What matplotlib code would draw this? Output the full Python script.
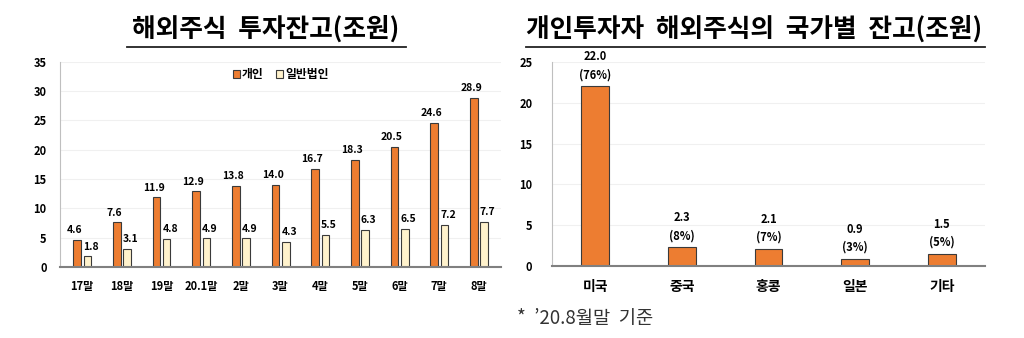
import matplotlib.pyplot as plt
import numpy as np
from matplotlib.lines import Line2D

plt.rcParams['font.family'] = ['Noto Sans CJK KR', 'DejaVu Sans']

# 해외주식 투자잔고 (조원)
periods = ['17말', '18말', '19말', '20.1말', '2말', '3말', '4말', '5말', '6말', '7말', '8말']
individual = [4.6, 7.6, 11.9, 12.9, 13.8, 14.0, 16.7, 18.3, 20.5, 24.6, 28.9]
corporate = [1.8, 3.1, 4.8, 4.9, 4.9, 4.3, 5.5, 6.3, 6.5, 7.2, 7.7]

# 개인투자자 국가별 잔고 (조원)
countries = ['미국', '중국', '홍콩', '일본', '기타']
country_vals = [22.0, 2.3, 2.1, 0.9, 1.5]
country_pct = ['76%', '8%', '7%', '3%', '5%']

orange = '#ED7D31'
cream = '#FFF2CC'
edge = '#3a3a3a'

fig = plt.figure(figsize=(10.24, 3.38), dpi=100)

def style_axes(ax, ymax, step):
    ax.set_ylim(0, ymax)
    ax.set_yticks(np.arange(0, ymax + 0.1, step))
    for s in ['top', 'right']:
        ax.spines[s].set_visible(False)
    ax.spines['left'].set_color('#bfbfbf')
    ax.spines['bottom'].set_color('#808080')
    ax.spines['bottom'].set_linewidth(1.5)
    ax.grid(axis='y', color='#f0f0f0', linewidth=0.8)
    ax.set_axisbelow(True)
    ax.tick_params(length=0, labelsize=8)
    for lbl in ax.get_yticklabels() + ax.get_xticklabels():
        lbl.set_fontweight('bold')

# 왼쪽 차트
ax1 = fig.add_axes([0.059, 0.21, 0.43, 0.607])
x = np.arange(len(periods))
w = 0.19
ax1.bar(x - 0.13, individual, w, color=orange, edgecolor=edge, linewidth=0.8, label='개인')
ax1.bar(x + 0.13, corporate, w, color=cream, edgecolor=edge, linewidth=0.8, label='일반법인')
ax1.set_xticks(x)
ax1.set_xticklabels(periods)
ax1.set_xlim(-0.55, len(periods) - 0.45)
style_axes(ax1, 35, 5)
ax1.tick_params(axis='x', pad=9)
ax1.tick_params(axis='y', pad=10)
for xi, v in zip(x, individual):
    ax1.text(xi - 0.2, v + 0.8, f'{v:.1f}', ha='center', va='bottom', fontsize=7.5, fontweight='bold')
for xi, v in zip(x, corporate):
    ax1.text(xi + 0.22, v + 0.8, f'{v:.1f}', ha='center', va='bottom', fontsize=7.5, fontweight='bold')
leg = ax1.legend(loc='upper center', ncol=2, frameon=False, fontsize=8.5,
                 handlelength=0.6, handleheight=0.6, handletextpad=0.2, columnspacing=1.0,
                 bbox_to_anchor=(0.5, 1.02))
for t in leg.get_texts():
    t.set_fontweight('bold')

# 오른쪽 차트
ax2 = fig.add_axes([0.539, 0.213, 0.423, 0.604])
xc = np.arange(len(countries))
ax2.bar(xc, country_vals, 0.32, color=orange, edgecolor=edge, linewidth=0.8)
ax2.set_xticks(xc)
ax2.set_xticklabels(countries)
ax2.set_xlim(-0.5, len(countries) - 0.5)
style_axes(ax2, 25, 5)
ax2.tick_params(axis='x', pad=10, labelsize=10)
ax2.tick_params(axis='y', pad=14)
for xi, v, p in zip(xc, country_vals, country_pct):
    ax2.text(xi, v + 0.6, f'{v:.1f}\n({p})', ha='center', va='bottom', fontsize=8,
             fontweight='bold', linespacing=1.5)

# 제목 (밑줄)
fig.text(0.259, 0.915, '해외주식  투자잔고(조원)', ha='center', va='center',
         fontsize=18.5, fontweight='bold')
fig.text(0.514, 0.915, '개인투자자  해외주식의  국가별  잔고(조원)', ha='left', va='center',
         fontsize=18.5, fontweight='bold')
fig.add_artist(Line2D([0.124, 0.396], [0.862, 0.862], color='#222222', linewidth=1.3))
fig.add_artist(Line2D([0.514, 0.962], [0.862, 0.862], color='#222222', linewidth=1.3))

fig.text(0.505, 0.058, '*  ’20.8월말  기준', ha='left', va='center', fontsize=13.5, color='#333333')

fig.savefig('out.png', dpi=100)
